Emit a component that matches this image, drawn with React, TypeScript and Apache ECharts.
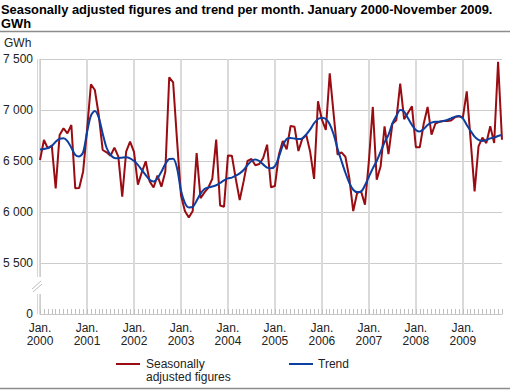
import React, { useEffect, useRef } from "react";
import * as echarts from "echarts";

const years = [2000, 2001, 2002, 2003, 2004, 2005, 2006, 2007, 2008, 2009];
const monthCount = 119; // Jan 2000 - Nov 2009

const seasonal = [
  6510, 6706, 6624, 6650, 6232, 6755, 6820, 6771, 6853, 6232, 6235, 6395,
  6800, 7252, 7196, 6951, 6608, 6585, 6552, 6631, 6542, 6150, 6591, 6690,
  6590, 6268, 6390, 6497, 6300, 6240, 6356, 6248, 6395, 7320, 7270, 6700,
  6165, 6010, 5945, 6010, 6578, 6135, 6192, 6240, 6325, 6710, 6064, 6052,
  6555, 6552, 6325, 6118, 6300, 6500, 6520, 6458, 6470, 6530, 6660, 6242,
  6255, 6560, 6696, 6614, 6843, 6836, 6598, 6719, 6755, 6590, 6325, 7085,
  6905, 6805, 7360, 6960, 6562, 6585, 6542, 6333, 6009, 6186, 6202, 6072,
  6500, 7030, 6317, 6448, 6840, 6567, 6865, 6900, 7258, 6910, 6974, 7036,
  6635, 6635, 6865, 7030, 6758, 6868, 6884, 6892, 6892, 6897, 6930, 6938,
  6926, 7183, 6700, 6202, 6644, 6729, 6676, 6840, 6676, 7473, 6709,
];

const trend = [
  6612, 6618, 6628, 6648, 6688, 6718, 6722, 6695, 6630, 6560, 6545, 6585,
  6780, 6945, 6990, 6925, 6770, 6630, 6560, 6530, 6528, 6533, 6536, 6525,
  6500, 6462, 6412, 6362, 6315, 6300, 6330, 6395, 6470, 6520, 6522, 6430,
  6210, 6090, 6045, 6050, 6110, 6180, 6225, 6240, 6250, 6262, 6285, 6310,
  6330, 6337, 6356, 6379, 6412, 6461, 6500, 6515, 6500, 6467, 6435, 6428,
  6450, 6540, 6650, 6715, 6725, 6720, 6715, 6722, 6760, 6810, 6870, 6912,
  6925, 6912, 6860, 6760, 6620, 6500, 6385, 6285, 6218, 6195, 6200, 6262,
  6346, 6428, 6500, 6591, 6683, 6755, 6869, 6940, 7000, 6984, 6918, 6853,
  6804, 6788, 6814, 6853, 6876, 6886, 6886, 6892, 6902, 6918, 6935, 6941,
  6918, 6853, 6794, 6739, 6706, 6696, 6706, 6722, 6729, 6745, 6755,
];

const yTickValues = [5000, 5500, 6000, 6500, 7000, 7500];
const yTickLabels = ["0", "5 500", "6 000", "6 500", "7 000", "7 500"];

const categories: string[] = [];
years.forEach((y) => {
  for (let m = 1; m <= 12; m++) categories.push(`${y}-${String(m).padStart(2, "0")}`);
});
const cats = categories.slice(0, monthCount);

const titleText =
  "Seasonally adjusted figures and trend per month. January 2000-November 2009.\nGWh";
const seriesNames = ["Seasonally adjusted figures", "Trend"];
const RED = "#990c12";
const BLUE = "#0d3fa0";
const FONT = "'Liberation Sans', Arial, sans-serif";

export default function App() {
  const ref = useRef<HTMLDivElement>(null);
  useEffect(() => {
    document.body.style.margin = "0";
    if (!ref.current) return;
    const chart = echarts.init(ref.current, undefined, { renderer: "svg" });
    chart.setOption({
      animation: false,
      backgroundColor: "#fff",
      textStyle: { fontFamily: FONT },
      title: {
        text: titleText,
        left: 1,
        top: 2,
        padding: 0,
        textStyle: {
          fontFamily: FONT,
          fontSize: 12.9,
          fontWeight: "bold",
          color: "#000",
          lineHeight: 14.5,
        },
      },
      grid: { left: 40, right: 10, top: 59, bottom: 77, containLabel: false },
      xAxis: {
        type: "category",
        data: cats,
        boundaryGap: false,
        axisLine: { show: true, lineStyle: { color: "#c8c8c8", width: 1 } },
        axisTick: {
          show: true,
          inside: true,
          length: 5,
          interval: 0,
          lineStyle: { color: "#c0c0c0" },
        },
        axisLabel: {
          interval: (i: number) => i % 12 === 0,
          formatter: (v: string) => `Jan.\n${v.slice(0, 4)}`,
          fontSize: 12,
          lineHeight: 13,
          color: "#222",
          margin: 7,
          fontFamily: FONT,
        },
        splitLine: {
          show: true,
          interval: (i: number) => i % 12 === 0,
          lineStyle: { color: "#dadada", width: 2 },
        },
      },
      yAxis: {
        type: "value",
        min: 5000,
        max: 7500,
        interval: 500,
        axisLine: { show: true, lineStyle: { color: "#cfcfcf" } },
        axisTick: { show: false },
        axisLabel: {
          formatter: (v: number) => {
            const i = yTickValues.indexOf(v);
            return i >= 0 ? yTickLabels[i] : "";
          },
          fontSize: 12,
          color: "#222",
          margin: 7,
          fontFamily: FONT,
        },
        splitLine: { show: true, lineStyle: { color: "#cccccc", width: 1 } },
      },
      series: [
        {
          name: seriesNames[0],
          type: "line",
          data: seasonal,
          symbol: "none",
          lineStyle: { color: RED, width: 2 },
          itemStyle: { color: RED },
          z: 2,
        },
        {
          name: seriesNames[1],
          type: "line",
          data: trend,
          symbol: "none",
          smooth: 0.3,
          lineStyle: { color: BLUE, width: 2 },
          itemStyle: { color: BLUE },
          z: 3,
        },
      ],
      graphic: [
        { type: "line", z: 100, shape: { x1: 0, y1: 31.5, x2: 510, y2: 31.5 }, style: { stroke: "#8c8c8c", lineWidth: 1.5 } },
        { type: "line", z: 100, shape: { x1: 0, y1: 388.5, x2: 510, y2: 388.5 }, style: { stroke: "#8c8c8c", lineWidth: 1.5 } },
        { type: "text", z: 100, x: 4, y: 43, style: { text: "GWh", fontSize: 12, fill: "#222", fontFamily: FONT, verticalAlign: "middle" } },
        { type: "line", z: 100, shape: { x1: 37.5, y1: 59, x2: 37.5, y2: 314 }, style: { stroke: "#d6d6d6", lineWidth: 1 } },
        { type: "rect", z: 101, shape: { x: 30, y: 277, width: 14, height: 17 }, style: { fill: "#fff" } },
        { type: "line", z: 102, shape: { x1: 32, y1: 289, x2: 41, y2: 281 }, style: { stroke: "#bdbdbd", lineWidth: 1 } },
        { type: "line", z: 102, shape: { x1: 33, y1: 292, x2: 42, y2: 284 }, style: { stroke: "#bdbdbd", lineWidth: 1 } },
        { type: "line", z: 100, shape: { x1: 116, y1: 364, x2: 140, y2: 364 }, style: { stroke: RED, lineWidth: 2 } },
        { type: "text", z: 100, x: 146, y: 364, style: { text: "Seasonally", fontSize: 12, fill: "#222", fontFamily: FONT, verticalAlign: "middle" } },
        { type: "text", z: 100, x: 146, y: 377, style: { text: "adjusted figures", fontSize: 12, fill: "#222", fontFamily: FONT, verticalAlign: "middle" } },
        { type: "line", z: 100, shape: { x1: 289, y1: 364, x2: 313, y2: 364 }, style: { stroke: BLUE, lineWidth: 2 } },
        { type: "text", z: 100, x: 318, y: 364, style: { text: "Trend", fontSize: 12, fill: "#222", fontFamily: FONT, verticalAlign: "middle" } },
      ],
    });
    return () => chart.dispose();
  }, []);
  return (
    <div
      ref={ref}
      style={{ position: "fixed", left: 0, top: 0, width: 512, height: 391 }}
    />
  );
}
